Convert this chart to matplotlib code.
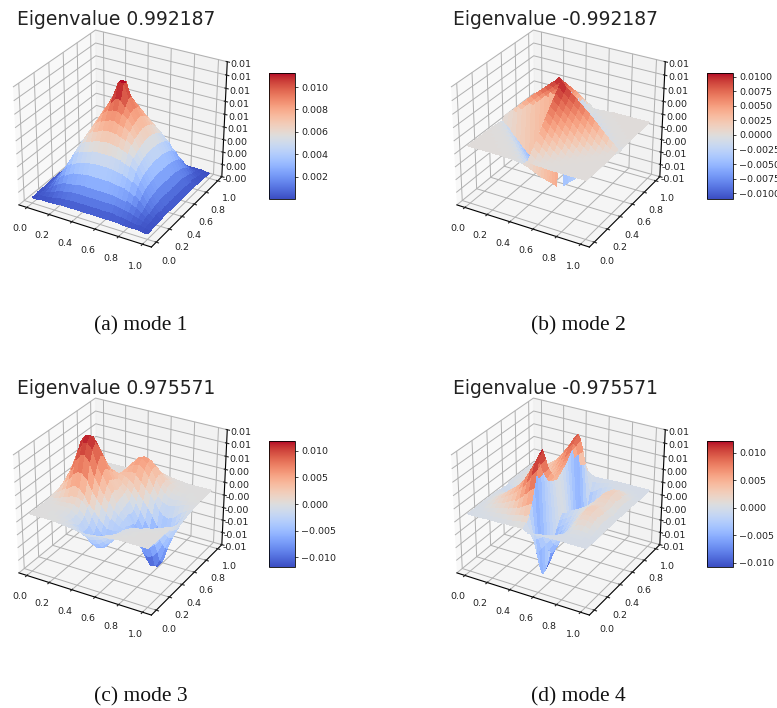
import numpy as np
import matplotlib
matplotlib.use("Agg")
import matplotlib.pyplot as plt
from matplotlib import cm
from matplotlib.colors import Normalize
from matplotlib.ticker import LinearLocator, FormatStrFormatter, FuncFormatter

W, H = 777, 708
UNIT = 1e-4

titles = ["Eigenvalue 0.992187", "Eigenvalue -0.992187", "Eigenvalue 0.975571", "Eigenvalue -0.975571"]
captions = ["(a) mode 1", "(b) mode 2", "(c) mode 3", "(d) mode 4"]
cbar_ticks = [
    [0.002, 0.004, 0.006, 0.008, 0.010],
    [-0.0100, -0.0075, -0.0050, -0.0025, 0.0, 0.0025, 0.0050, 0.0075, 0.0100],
    [-0.010, -0.005, 0.0, 0.005, 0.010],
    [-0.010, -0.005, 0.0, 0.005, 0.010],
]
cbar_fmt = ["%.3f", "%.4f", "%.3f", "%.3f"]
color_ranges = [(0.00002, 0.01125), (-0.0110, 0.0106), (-0.0118, 0.0118), (-0.0108, 0.0121)]
z_ranges = [(-0.0005, 0.012), (-0.0115, 0.0115), (-0.0115, 0.0115), (-0.0115, 0.0115)]

# quarter of mode 1 (x<0.5, y<0.5), units of 1e-4
mode1_quarter = [
    [1, 1, 2, 2, 2, 2, 3, 3, 3, 3, 3, 3, 3],
    [1, 2, 3, 3, 4, 5, 6, 6, 7, 7, 7, 7, 7],
    [2, 3, 5, 6, 8, 10, 11, 12, 13, 13, 13, 13, 13],
    [2, 3, 6, 10, 13, 16, 18, 19, 20, 21, 21, 21, 21],
    [2, 4, 8, 13, 19, 23, 26, 28, 29, 30, 31, 31, 31],
    [2, 5, 10, 16, 23, 30, 34, 37, 39, 40, 41, 42, 42],
    [3, 6, 11, 18, 26, 34, 42, 46, 48, 50, 51, 52, 52],
    [3, 6, 12, 19, 28, 37, 46, 52, 56, 58, 60, 61, 62],
    [3, 7, 13, 20, 29, 39, 48, 56, 62, 66, 68, 70, 71],
    [3, 7, 13, 21, 30, 40, 50, 58, 66, 72, 76, 78, 80],
    [3, 7, 13, 21, 31, 41, 51, 60, 68, 76, 82, 86, 88],
    [3, 7, 13, 21, 31, 42, 52, 61, 70, 78, 86, 92, 98],
    [3, 7, 13, 21, 31, 42, 52, 62, 71, 80, 88, 98, 112],
]

# quarter of mode 2 (magnitude); the four quarters carry alternating signs
mode2_quarter = [
    [0, 0, 0, 0, 0, 0, 0, 0, 0, 1, 1, 2, 4],
    [0, 0, 0, 0, 0, 0, 0, 0, 1, 1, 2, 4, 12],
    [0, 0, 0, 0, 0, 0, 0, 1, 1, 2, 4, 12, 20],
    [0, 0, 0, 0, 0, 0, 1, 1, 2, 4, 12, 20, 29],
    [0, 0, 0, 0, 0, 1, 1, 2, 4, 12, 20, 29, 38],
    [0, 0, 0, 0, 1, 1, 2, 4, 12, 20, 29, 38, 47],
    [0, 0, 0, 1, 1, 2, 4, 12, 20, 29, 38, 47, 56],
    [0, 0, 1, 1, 2, 4, 12, 20, 29, 38, 47, 56, 64],
    [0, 1, 1, 2, 4, 12, 20, 29, 38, 47, 56, 64, 72],
    [1, 1, 2, 4, 12, 20, 29, 38, 47, 56, 64, 72, 80],
    [1, 2, 4, 12, 20, 29, 38, 47, 56, 64, 72, 80, 88],
    [2, 4, 12, 20, 29, 38, 47, 56, 64, 72, 80, 88, 96],
    [4, 12, 20, 29, 38, 47, 56, 64, 72, 80, 88, 96, 105],
]

# lower half of mode 3 (y<0.5); upper half is the point-reflected negative
mode3_lower = [
    [0, 0, 0, 0, 0, 0, -1, -2, -3, -4, -6, -7, -8, -7, -6, -4, -3, -2, -1, 0, 0, 0, 0, 0, 0, 0],
    [0, 0, 0, 0, 0, -1, -1, -3, -5, -9, -12, -15, -16, -15, -12, -9, -5, -3, -1, 0, 0, 0, 0, 0, 0, 0],
    [0, 0, 0, 0, -1, -1, -2, -5, -9, -15, -21, -25, -27, -25, -21, -15, -9, -5, -2, -1, 0, 0, 0, 0, 0, 0],
    [0, 0, 0, 0, -1, -2, -4, -8, -14, -22, -30, -37, -40, -37, -30, -22, -14, -8, -4, -2, -1, 0, 0, 0, 0, 0],
    [0, 0, 0, 1, 0, -1, -4, -9, -18, -29, -40, -48, -52, -48, -40, -29, -18, -10, -5, -2, -1, 0, 0, 0, 0, 0],
    [0, 0, 1, 2, 2, 2, -1, -7, -16, -30, -43, -54, -58, -55, -45, -33, -20, -11, -6, -3, -2, -1, 0, 0, 0, 0],
    [1, 1, 2, 4, 5, 6, 5, -1, -11, -26, -40, -52, -57, -54, -45, -35, -23, -15, -9, -6, -5, -3, -2, -1, 0, 0],
    [1, 2, 5, 8, 12, 15, 15, 11, 1, -14, -30, -42, -50, -48, -42, -34, -25, -19, -15, -12, -9, -6, -4, -2, -1, 0],
    [4, 9, 15, 22, 29, 33, 30, 20, 5, -5, -16, -26, -36, -37, -35, -32, -29, -27, -25, -22, -18, -13, -8, -5, -2, -1],
    [5, 14, 24, 37, 49, 56, 55, 46, 28, 15, 4, -8, -20, -26, -31, -33, -36, -39, -40, -38, -31, -23, -15, -9, -4, -2],
    [6, 19, 33, 51, 72, 84, 86, 76, 51, 35, 20, 7, -7, -15, -23, -30, -40, -50, -58, -61, -58, -50, -37, -24, -14, -4],
    [7, 23, 41, 63, 88, 104, 106, 96, 70, 50, 33, 18, 3, -10, -20, -33, -48, -65, -78, -85, -81, -69, -51, -33, -19, -6],
    [8, 25, 45, 70, 100, 112, 114, 106, 81, 60, 40, 22, 6, -8, -18, -35, -55, -78, -95, -108, -106, -90, -63, -41, -23, -8],
]

# lower half of mode 4 (y<0.5)
mode4_lower = [
    [0, 0, 0, 0, 1, 1, 1, 1, 2, 2, 2, 3, 3, -3, -2, -2, -1, -1, 0, 0, 0, 0, 0, 0, 0, 0],
    [0, 0, 1, 1, 2, 2, 3, 3, 4, 5, 7, 8, 9, -10, -8, -6, -4, -3, -2, -1, 0, 0, 0, 0, 0, 0],
    [0, 1, 1, 2, 4, 5, 6, 7, 9, 11, 14, 17, 20, -25, -19, -14, -9, -6, -3, -1, 0, 0, 0, 0, 0, 0],
    [0, 1, 3, 5, 7, 9, 12, 14, 17, 22, 27, 33, 38, -55, -43, -31, -21, -13, -7, -3, 0, 1, 1, 1, 0, 0],
    [1, 2, 4, 8, 12, 15, 19, 24, 29, 37, 46, 56, 63, -88, -68, -48, -33, -21, -11, -4, 2, 5, 5, 3, 1, 0],
    [1, 2, 6, 11, 17, 22, 28, 34, 42, 54, 66, 81, 92, -108, -85, -60, -42, -26, -13, -3, 5, 10, 10, 6, 3, 0],
    [1, 3, 8, 14, 20, 27, 34, 42, 51, 65, 81, 98, 117, -106, -84, -60, -42, -26, -12, 0, 11, 16, 16, 11, 4, 1],
    [1, 3, 8, 14, 21, 28, 35, 43, 53, 67, 83, 101, 121, -92, -74, -54, -38, -24, -10, 4, 15, 21, 20, 14, 6, 1],
    [1, 3, 7, 12, 18, 25, 31, 38, 47, 59, 73, 89, 101, -74, -60, -45, -32, -20, -7, 6, 18, 24, 23, 16, 7, 1],
    [1, 2, 5, 10, 14, 19, 24, 29, 36, 46, 56, 69, 78, -57, -47, -36, -26, -15, -4, 9, 20, 26, 24, 16, 7, 1],
    [0, 1, 4, 7, 10, 13, 17, 21, 26, 34, 44, 54, 66, -42, -35, -27, -19, -10, -1, 10, 20, 24, 23, 16, 7, 1],
    [0, -3, -2, 3, 6, 9, 12, 16, 20, 27, 34, 44, 55, -30, -25, -19, -13, -6, 2, 10, 18, 21, 20, 13, 6, 1],
    [-3, -7, -4, 2, 6, 10, 14, 17, 22, 28, 33, 40, 46, -20, -17, -13, -8, -3, 3, 9, 15, 18, 16, 12, 4, 1],
]

# upper-left quarter of mode 4 (x<0.5, y>0.5); upper-right mirrors the lower-right quarter
mode4_upper_left = [
    [-3, -7, -4, 2, 6, 11, 15, 18, 22, 29, 35, 43, 50],
    [-2, -5, -2, 4, 8, 12, 16, 20, 25, 31, 39, 47, 55],
    [1, 2, 4, 7, 10, 14, 18, 22, 27, 34, 42, 51, 60],
    [1, 2, 5, 8, 11, 16, 20, 24, 30, 38, 46, 56, 66],
    [1, 2, 5, 9, 13, 18, 23, 27, 34, 43, 53, 64, 75],
    [1, 3, 6, 11, 15, 21, 26, 32, 40, 50, 62, 75, 88],
    [1, 3, 7, 12, 17, 24, 29, 35, 44, 56, 69, 83, 98],
    [1, 3, 7, 12, 17, 24, 30, 36, 45, 57, 70, 85, 100],
    [1, 3, 6, 10, 14, 20, 26, 31, 38, 48, 60, 72, 85],
    [1, 2, 4, 7, 10, 14, 18, 22, 27, 34, 42, 51, 60],
    [0, 1, 2, 4, 5, 7, 9, 11, 14, 17, 21, 26, 30],
    [0, 0, 1, 1, 2, 3, 4, 4, 5, 7, 8, 10, 12],
    [0, 0, 0, 0, 1, 1, 1, 1, 1, 2, 2, 3, 3],
]

def from_quarter(q, signs=(1, 1, 1, 1)):
    q = np.array(q, float)
    ll, lr, ul, ur = signs
    return np.block([[ll * q, lr * q[:, ::-1]], [ul * q[::-1, :], ur * q[::-1, ::-1]]])

def from_lower(lower, sign):
    low = np.array(lower, float)
    return np.vstack([low, sign * low[::-1, ::-1]])

def mode4_full():
    low = np.array(mode4_lower, float)
    upper = np.hstack([np.array(mode4_upper_left, float), low[::-1, 13:]])
    return np.vstack([low, upper])

def cell_colors(z, norm, far=0.7):
    # each cell takes its colour mostly from its far corner, as the reference's coarse sampling does
    c = z.copy()
    c[:-1, :] = (1 - far) * c[:-1, :] + far * c[1:, :]
    c[:, :-1] = (1 - far) * c[:, :-1] + far * c[:, 1:]
    return cm.coolwarm(norm(c))

surfaces = [
    from_quarter(mode1_quarter) * UNIT,
    from_quarter(mode2_quarter, (-1, 1, 1, -1)) * UNIT,
    from_lower(mode3_lower, -1) * UNIT,
    mode4_full() * UNIT,
]
offsets = [(0, 0), (438, 0), (0, 368), (438, 368)]
caption_x = [141, 578, 141, 578]
caption_y = [326, 326, 697, 697]
title_x = [17, 453, 17, 453]
title_y = [25, 25, 394, 394]

fig = plt.figure(figsize=(W / 100, H / 100), dpi=100)
plt.rcParams["font.family"] = "DejaVu Sans"

def rect(x, y, w, h):
    return [x / W, 1 - (y + h) / H, w / W, h / H]

xs = np.arange(26) / 25
X, Y = np.meshgrid(xs, xs)

for k in range(4):
    dx, dy = offsets[k]
    ax = fig.add_axes(rect(dx + 0, dy + 22.5, 238, 229), projection="3d")
    ax.apply_aspect = lambda position=None: None
    ax.set_box_aspect((4, 4, 3.66), zoom=1.048)
    ax.patch.set_alpha(0)
    norm = Normalize(*color_ranges[k])
    ax.plot_surface(X, Y, surfaces[k], facecolors=cell_colors(surfaces[k], norm), shade=False,
                    linewidth=0, antialiased=False, rstride=1, cstride=1)
    ax.set_zlim(*z_ranges[k])
    ax.zaxis.set_major_locator(LinearLocator(10))
    ax.zaxis.set_major_formatter(FormatStrFormatter("%.02f"))
    ax.set_xticks(np.arange(0, 1.01, 0.2))
    ax.set_yticks(np.arange(0, 1.01, 0.2))
    ax.tick_params(labelsize=6.8, pad=0, colors="#222222")
    ax.tick_params(axis="x", pad=0)
    ax.tick_params(axis="y", pad=0)
    ax.tick_params(axis="z", pad=-2)
    for axis in (ax.xaxis, ax.yaxis, ax.zaxis):
        axis._axinfo["grid"]["linewidth"] = 0.7
        axis._axinfo["axisline"]["linewidth"] = 0.6
    cax = fig.add_axes(rect(dx + 269, dy + 73, 26, 126))
    cb = fig.colorbar(cm.ScalarMappable(norm=norm, cmap="coolwarm"), cax=cax)
    cb.set_ticks(cbar_ticks[k])
    fmt = cbar_fmt[k]
    cb.ax.yaxis.set_major_formatter(FuncFormatter(lambda v, p, f=fmt: (f % v).replace("-", "\u2212")))
    cb.ax.tick_params(labelsize=6.8, length=2.4, width=0.6, pad=2, colors="#222222")
    cb.outline.set_linewidth(0.6)
    fig.text(title_x[k] / W, 1 - title_y[k] / H, titles[k], fontsize=13.5, color="#222222", ha="left", va="baseline")
    fig.text(caption_x[k] / W, 1 - caption_y[k] / H, captions[k], fontsize=15.5, color="#111111",
             family="Liberation Serif", ha="center", va="center")

fig.savefig("out.png", dpi=100)
